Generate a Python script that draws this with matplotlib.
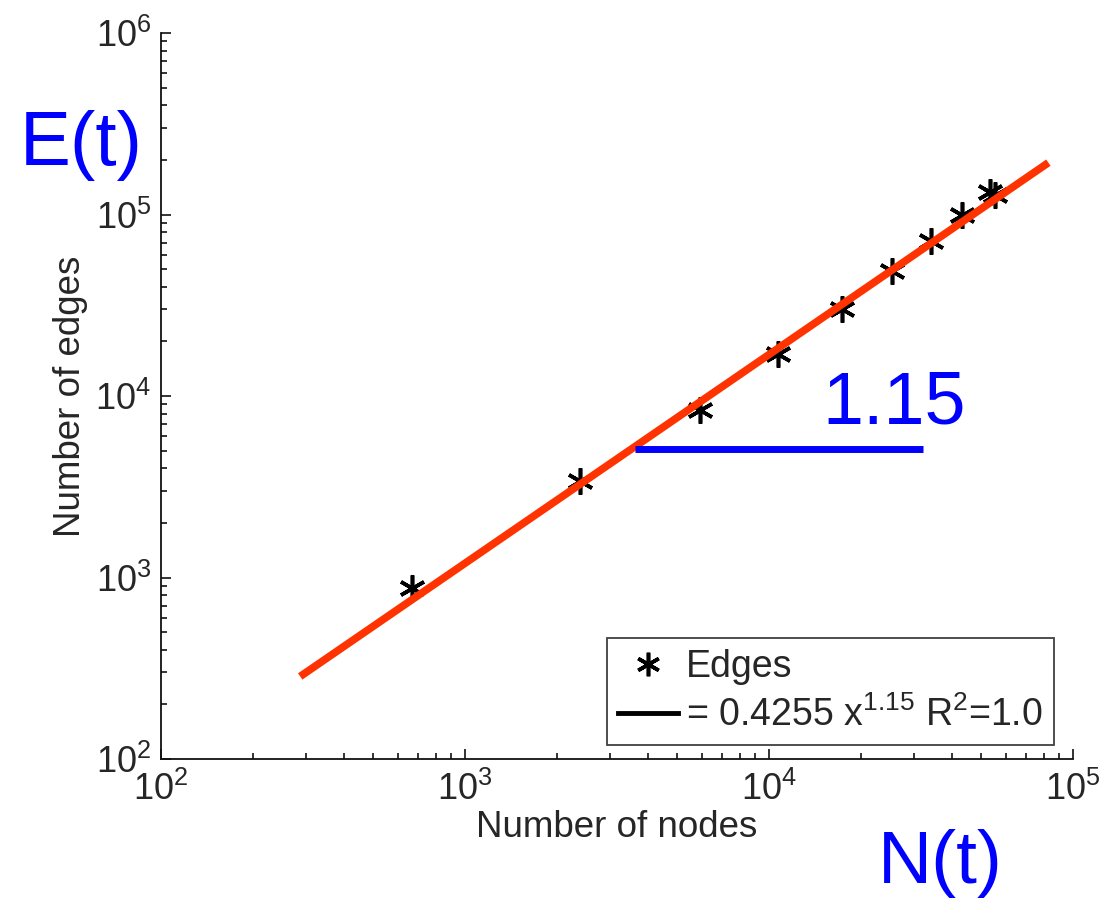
import matplotlib
matplotlib.use("Agg")
import matplotlib.pyplot as plt
from matplotlib.lines import Line2D

# edges vs nodes
nodes = [670, 2390, 5940, 10700, 17400, 25400, 34200, 43200, 53500, 55500]
edges = [875, 3400, 8370, 17000, 30200, 48900, 71500, 99300, 133000, 128000]

# power-law fit  E = 0.4255 N^1.15, drawn between these two ends
fit_x = [287, 83000]
fit_y = [285, 193000]
fit_label = "= 0.4255 x$^{1.15}$ R$^2$=1.0"

# slope guide
guide_x = [3630, 32100]
guide_y = [5100, 5100]

plt.rcParams["font.family"] = ["Liberation Sans", "DejaVu Sans"]
plt.rcParams["mathtext.fontset"] = "custom"
plt.rcParams["mathtext.rm"] = "Liberation Sans"
plt.rcParams["mathtext.it"] = "Liberation Sans:italic"
plt.rcParams["mathtext.default"] = "regular"

W, H = 1108, 899
fig = plt.figure(figsize=(W / 100, H / 100), dpi=100)
ax = fig.add_axes([161 / W, (H - 759) / H, (1073 - 161) / W, (759 - 33) / H])

ax.plot(nodes, edges, linestyle="none", marker=(6, 2, 0), markersize=19,
        markeredgewidth=2.6, color="black", zorder=2)
ax.plot(fit_x, fit_y, "-", color="#ff3300", lw=5.5, solid_capstyle="butt", zorder=3)
ax.plot(guide_x, guide_y, "-", color="#0000ff", lw=5, solid_capstyle="butt", zorder=3)

ax.set_xscale("log")
ax.set_yscale("log")
ax.set_xlim(1e2, 1e5)
ax.set_ylim(1e2, 1e6)

for s in ("top", "right"):
    ax.spines[s].set_visible(False)
for s in ("left", "bottom"):
    ax.spines[s].set_linewidth(1.3)
    ax.spines[s].set_color("#111111")

ax.tick_params(which="both", direction="in", colors="#111111", width=1.2,
               labelsize=26, labelcolor="#262626")
ax.tick_params(which="major", length=7)
ax.tick_params(which="minor", length=4)
ax.tick_params(axis="x", pad=9)
ax.tick_params(axis="y", pad=7)

ax.set_xlabel("Number of nodes", fontsize=26.5, color="#262626", labelpad=2)
ax.set_ylabel("Number of edges", fontsize=26.5, color="#262626", labelpad=5)

handles = [
    Line2D([], [], linestyle="none", marker=(6, 2, 0), markersize=17,
           markeredgewidth=2.6, color="black"),
    Line2D([], [], color="black", lw=3.5),
]
leg = ax.legend(handles, ["Edges", fit_label], loc="lower right",
                bbox_to_anchor=((1054 - 161) / 912, (759 - 745) / 726),
                borderaxespad=0, fontsize=27, fancybox=False, frameon=True,
                edgecolor="#111111", handlelength=1.6, handletextpad=0.2,
                borderpad=0.3, labelspacing=0.3)
leg.get_frame().set_linewidth(1.3)
for t in leg.get_texts():
    t.set_color("#262626")

fig.text(20 / W, 1 - 165 / H, "E(t)", color="#0000ff", fontsize=55,
         ha="left", va="baseline")
fig.text(878 / W, 1 - 883 / H, "N(t)", color="#0000ff", fontsize=54,
         ha="left", va="baseline")
fig.text(822 / W, 1 - 423 / H, "1.15", color="#0000ff", fontsize=53,
         ha="left", va="baseline")

fig.savefig("out.png", dpi=100)
